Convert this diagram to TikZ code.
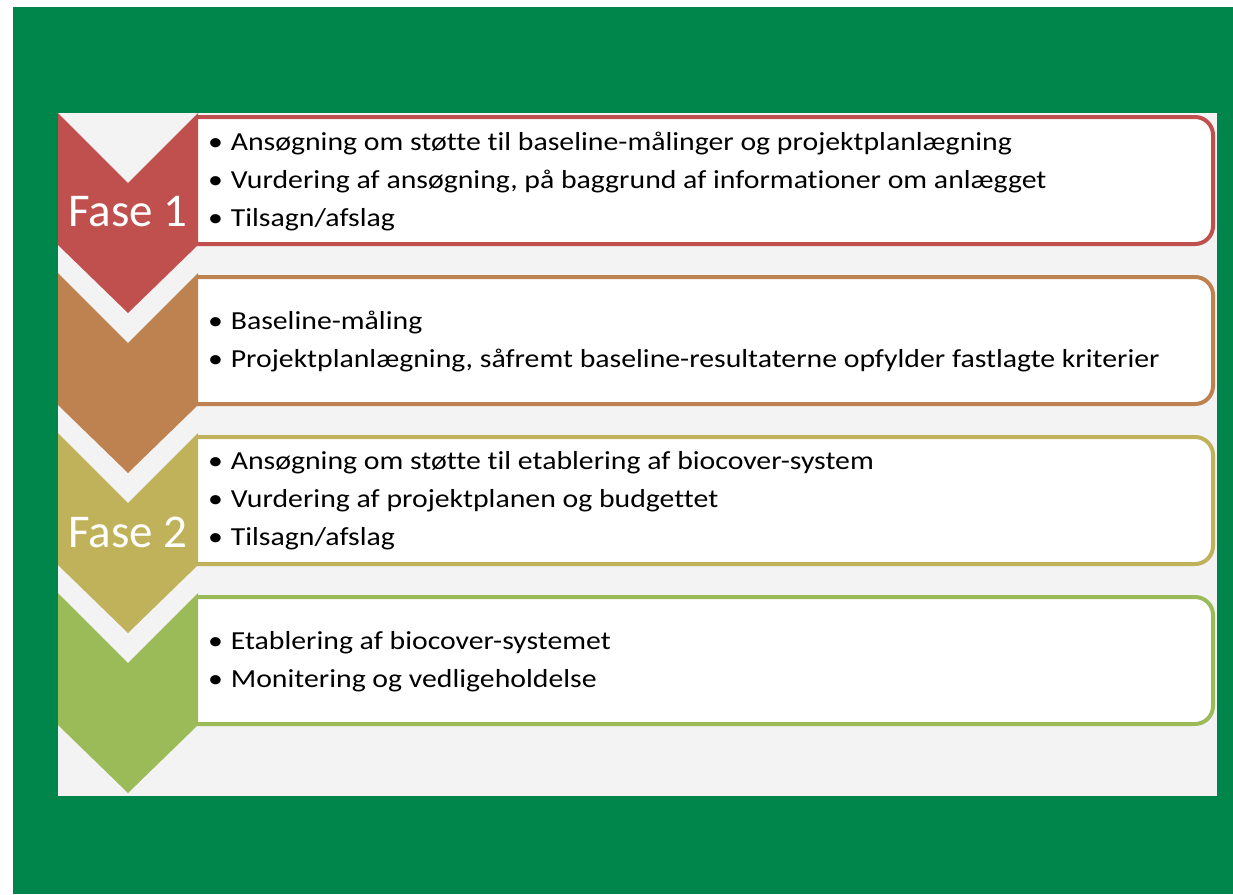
\documentclass[tikz,border=0pt]{standalone}
\usepackage{fontspec}
\setmainfont{Carlito}
\newfontfamily\listfont[FakeStretch=1.145,Ligatures=CommonOff]{Carlito}
\definecolor{framegreen}{RGB}{0,134,74}
\definecolor{panelgray}{RGB}{243,243,243}
\definecolor{fasered}{RGB}{192,80,77}
\definecolor{fasebrown}{RGB}{190,130,80}
\definecolor{faseolive}{RGB}{191,178,90}
\definecolor{fasegreen}{RGB}{155,187,89}
\newcommand{\punkt}{\textbullet\hspace{0.3em}}

\begin{document}
\begin{tikzpicture}[
        x=1pt, y=-1pt, % 1pt = 1 pixel of the reference, y downwards
        listbox/.style={draw=#1, line width=4pt, fill=white, rounded corners=18pt},
        listtext/.style={anchor=west, align=left, inner sep=0pt, font=\listfont\fontsize{26}{38}\selectfont},
        phase/.style={text=white, inner sep=0pt, font=\fontsize{47}{47}\selectfont}
    ]
    \useasboundingbox (0,0) rectangle (1233,894);
    \fill[framegreen] (13,7) rectangle (1233,894);
    \fill[panelgray] (58,113) rectangle (1217,796);

    % boxes and chevrons, one per step
    \foreach \t/\c in {113/fasered, 273/fasebrown, 433/faseolive, 593/fasegreen} {
        \begin{scope}
            \clip (196,\t) rectangle (1233,\t+140);
            \draw[listbox=\c] (170,\t+4) rectangle (1213,\t+131);
        \end{scope}
        \fill[\c] (58,\t) -- (128,\t+70) -- (198,\t) -- (198,\t+132)
            -- (128,\t+200) -- (58,\t+132) -- cycle;
    }

    \node[phase] (fase1) at (128,212) {Fase 1};
    \node[phase] (fase2) at (128,532) {Fase 2};

    \node[listtext] (text1) at (208,182) {%
        \punkt Ansøgning om støtte til baseline-målinger og projektplanlægning\\
        \punkt Vurdering af ansøgning, på baggrund af informationer om anlægget\\
        \punkt Tilsagn/afslag};
    \node[listtext] (text2) at (208,342) {%
        \punkt Baseline-måling\\
        \punkt Projektplanlægning, såfremt baseline-resultaterne opfylder fastlagte kriterier};
    \node[listtext] (text3) at (208,501) {%
        \punkt Ansøgning om støtte til etablering af biocover-system\\
        \punkt Vurdering af projektplanen og budgettet\\
        \punkt Tilsagn/afslag};
    \node[listtext] (text4) at (208,662) {%
        \punkt Etablering af biocover-systemet\\
        \punkt Monitering og vedligeholdelse};
\end{tikzpicture}
\end{document}
